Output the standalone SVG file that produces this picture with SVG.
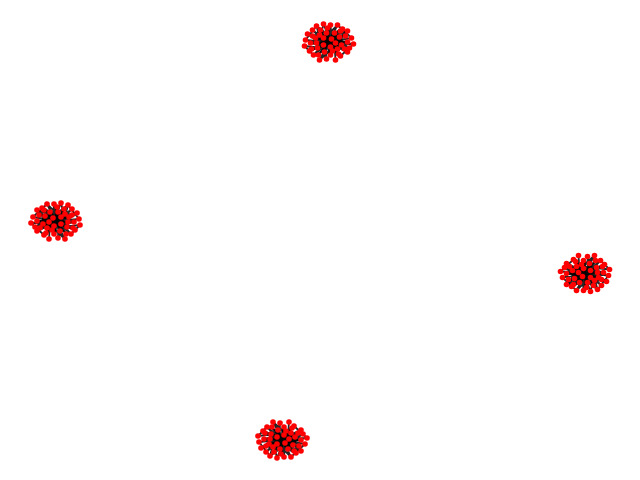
<svg xmlns="http://www.w3.org/2000/svg" xmlns:xlink="http://www.w3.org/1999/xlink" width="640" height="480" viewBox="0 0 640 480">
<style>
.e{fill:none;stroke:#000;stroke-width:1.8;stroke-opacity:0.85}
.n{fill:#ff0000}
</style>
<defs>
<g id="edges">
<path class="e" d="M25 2L-8 0M21 6L-3 -10M19 10L-14 -4M12 14L-4 -5M7 18L5 -10M-2 17L-10 -8M-9 18L14 -2M-15 13L10 -7M-19 9L16 -7M-24 4L11 8M-23 -2L14 3M-21 -8L4 10M-16 -12L10 13M-12 -16L-5 11M-5 -18L-11 7M2 -17L1 14M9 -17L-16 8M14 -13L-19 1M19 -11L-10 12M23 -4L-14 2M19 0L-17 -7M17 7L-9 -13M10 13L0 -14M1 14L11 -12M-10 12L8 1M-16 8L3 -4M-19 1L4 5M-17 -7L11 8M-9 -13L4 10M0 -14L-3 5M11 -12L-11 7M16 -7L-9 18M14 3L-12 -16M11 8L-16 -12M4 10L2 -17M-5 11L9 -17M-14 -4L17 7M-10 -8L19 10M-3 -10L-2 17M5 -10L-15 13M10 -7L-19 9M14 -2L-21 -8M8 1L-23 -2M4 5L-5 -18M-3 5L14 -13M-4 -5L21 6M3 -4L-9 18M0 0L23 -4M-8 0L19 -11"/>
<path class="e" d="M19 0L-19 1M17 7L-17 -7M10 13L-9 -13M1 14L0 -14M-10 12L11 -12M-16 8L16 -7M14 3L-14 -4M11 8L-10 -8M4 10L-3 -10M-5 11L5 -10M-11 7L10 -7M-14 2L14 -2M8 1L-8 0M4 5L-4 -5M-3 5L3 -4M25 2L12 14M-24 4L-15 13M-23 -2L-12 -16M23 -4L9 -17"/>
</g>
<g id="nodes">
<circle class="n" cx="25" cy="2" r="2.8"/><circle class="n" cx="21" cy="6" r="2.8"/><circle class="n" cx="19" cy="10" r="2.8"/><circle class="n" cx="12" cy="14" r="2.8"/><circle class="n" cx="7" cy="18" r="2.8"/><circle class="n" cx="-2" cy="17" r="2.8"/><circle class="n" cx="-9" cy="18" r="2.8"/><circle class="n" cx="-15" cy="13" r="2.8"/><circle class="n" cx="-19" cy="9" r="2.8"/><circle class="n" cx="-24" cy="4" r="2.8"/><circle class="n" cx="-23" cy="-2" r="2.8"/><circle class="n" cx="-21" cy="-8" r="2.8"/><circle class="n" cx="-16" cy="-12" r="2.8"/><circle class="n" cx="-12" cy="-16" r="2.8"/><circle class="n" cx="-5" cy="-18" r="2.8"/><circle class="n" cx="2" cy="-17" r="2.8"/><circle class="n" cx="9" cy="-17" r="2.8"/><circle class="n" cx="14" cy="-13" r="2.8"/><circle class="n" cx="19" cy="-11" r="2.8"/><circle class="n" cx="23" cy="-4" r="2.8"/>
<circle class="n" cx="19" cy="0" r="2.8"/><circle class="n" cx="16" cy="7" r="2.8"/><circle class="n" cx="10" cy="12" r="2.8"/><circle class="n" cx="2" cy="13" r="2.8"/><circle class="n" cx="-10" cy="13" r="2.8"/><circle class="n" cx="-17" cy="7" r="2.8"/><circle class="n" cx="-18" cy="1" r="2.8"/><circle class="n" cx="-16" cy="-6" r="2.8"/><circle class="n" cx="-8" cy="-12" r="2.8"/><circle class="n" cx="-1" cy="-14" r="2.8"/><circle class="n" cx="12" cy="-11" r="2.8"/><circle class="n" cx="17" cy="-6" r="2.8"/>
<circle class="n" cx="13" cy="3" r="2.8"/><circle class="n" cx="9" cy="7" r="2.8"/><circle class="n" cx="4" cy="9" r="2.8"/><circle class="n" cx="-4" cy="10" r="2.8"/><circle class="n" cx="-11" cy="6" r="2.8"/><circle class="n" cx="-12" cy="1" r="2.8"/><circle class="n" cx="-13" cy="-4" r="2.8"/><circle class="n" cx="-9" cy="-7" r="2.8"/><circle class="n" cx="-2" cy="-9" r="2.8"/><circle class="n" cx="6" cy="-9" r="2.8"/><circle class="n" cx="11" cy="-5" r="2.8"/>
<circle class="n" cx="7" cy="1" r="2.8"/><circle class="n" cx="2" cy="5" r="2.8"/><circle class="n" cx="-5" cy="3" r="2.8"/><circle class="n" cx="-5" cy="-4" r="2.8"/><circle class="n" cx="3" cy="-3" r="2.8"/>
</g>
</defs>
<rect width="640" height="480" fill="#ffffff"/>
<g id="connectors">
<use xlink:href="#edges" href="#edges" transform="translate(328.5,42)"/>
<use xlink:href="#edges" href="#edges" transform="translate(56,221) scale(-1,1)"/>
<use xlink:href="#edges" href="#edges" transform="translate(585.5,273.5) rotate(180)"/>
<use xlink:href="#edges" href="#edges" transform="translate(282,440) scale(1,-1)"/>
</g>
<g id="cluster-top"><use xlink:href="#nodes" href="#nodes" transform="translate(328.5,42)"/></g>
<g id="cluster-left"><use xlink:href="#nodes" href="#nodes" transform="translate(56,221) scale(-1,1)"/></g>
<g id="cluster-right"><use xlink:href="#nodes" href="#nodes" transform="translate(585.5,273.5) rotate(180)"/></g>
<g id="cluster-bottom"><use xlink:href="#nodes" href="#nodes" transform="translate(282,440) scale(1,-1)"/></g>
</svg>
